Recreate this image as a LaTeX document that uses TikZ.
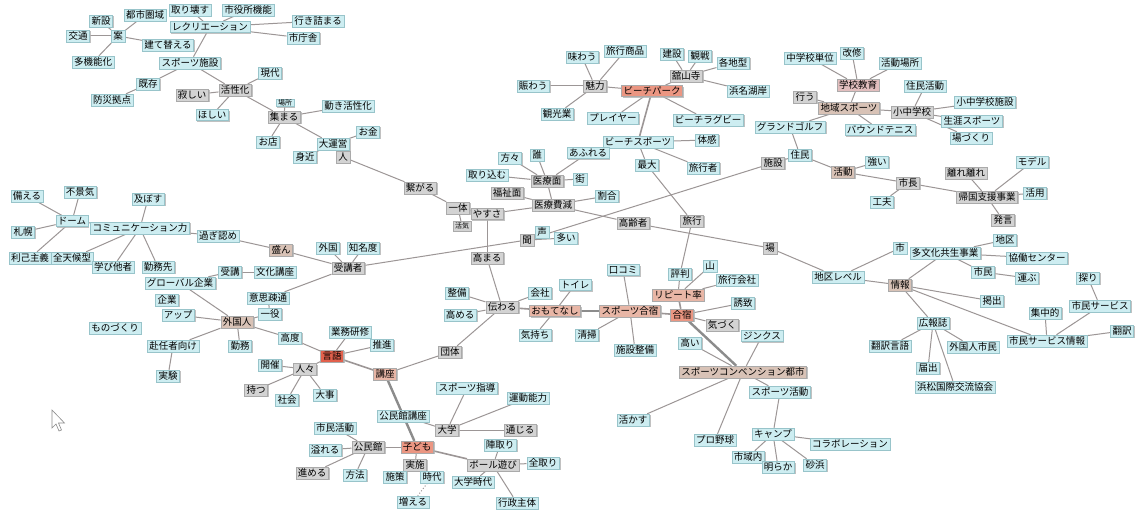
\documentclass[tikz,border=0pt]{standalone}
\usepackage{fontspec}
\setmainfont{Noto Sans CJK JP}
\usetikzlibrary{shadows,backgrounds}
\definecolor{cyf}{HTML}{CDEDF1}
\definecolor{cyd}{HTML}{98C4CA}
\definecolor{gyf}{HTML}{D3D3D3}
\definecolor{gyd}{HTML}{AAAAAA}
\definecolor{bgf}{HTML}{D8C2B6}
\definecolor{slf}{HTML}{E8B6A6}
\definecolor{ssf}{HTML}{EB9682}
\definecolor{rdf}{HTML}{E2604C}
\definecolor{pkf}{HTML}{E2BEBE}
\definecolor{edg}{HTML}{9C9696}
\tikzset{
 nb/.style={draw=cyd,line width=0.5pt,inner xsep=2pt,inner ysep=1.6pt,font=\fontsize{9.5}{10}\selectfont,
   drop shadow={shadow xshift=1.3pt,shadow yshift=-1.3pt,fill=black!30,opacity=0.8}},
 cy/.style={nb,fill=cyf},
 gy/.style={nb,fill=gyf,draw=gyd},
 bg/.style={nb,fill=bgf,draw=gyd},
 sl/.style={nb,fill=slf,draw=gyd},
 ss/.style={nb,fill=ssf,draw=gyd},
 rd/.style={nb,fill=rdf,draw=gyd},
 pk/.style={nb,fill=pkf,draw=gyd},
 sm/.style={font=\fontsize{7}{8}\selectfont},
 e/.style={draw=edg,line width=1pt},
 et/.style={draw=black!45,line width=2.4pt},
 em/.style={draw=edg,line width=1.6pt},
}
\begin{document}
\begin{tikzpicture}[x=1pt,y=-1pt]
\useasboundingbox (0,0) rectangle (1141,516);
% top-left
\node[cy] (a1) at (101,21) {新設};
\node[cy] (a2) at (145,15) {都市圏域};
\node[cy] (a3) at (190,10) {取り壊す};
\node[cy] (a4) at (248,10) {市役所機能};
\node[cy] (a5) at (210,27) {レクリエーション};
\node[cy] (a6) at (318,21) {行き詰まる};
\node[cy] (a7) at (303,38) {市庁舎};
\node[cy] (a8) at (78,36) {交通};
\node[cy] (a9) at (118,36) {案};
\node[cy] (a10) at (168,45) {建て替える};
\node[cy] (a11) at (93,62) {多機能化};
\node[cy] (a12) at (190,63) {スポーツ施設};
\node[cy] (a13) at (270,73) {現代};
\node[cy] (a14) at (148,84) {既存};
\node[gy] (a15) at (235,90) {活性化};
\node[gy] (a16) at (192,95) {寂しい};
\node[cy] (a17) at (112,100) {防災拠点};
\node[cy] (a18) at (212,115) {ほしい};
\node[gy] (a20) at (284,117) {集まる};
\node[cy,sm,inner ysep=0.5pt] (a19) at (285,103) {場所};
\node[cy] (a21) at (268,142) {お店};
\node[cy] (a22) at (348,106) {動き活性化};
\node[cy] (a23) at (368,132) {お金};
\node[cy] (a24) at (333,144) {大運営};
\node[cy] (a25) at (305,157) {身近};
\node[gy] (a26) at (343,157) {人};
% centre-top
\node[cy] (b1) at (533,86) {賑わう};
\node[cy] (b2) at (557,114) {観光業};
\node[cy] (b3) at (582,57) {味わう};
\node[cy] (b4) at (625,51) {旅行商品};
\node[gy] (b5) at (595,86) {魅力};
\node[ss] (b6) at (652,91) {ビーチパーク};
\node[cy] (b7) at (672,54) {建設};
\node[cy] (b8) at (700,56) {観戦};
\node[cy] (b9) at (733,63) {各地型};
\node[gy] (b10) at (686,76) {舘山寺};
\node[cy] (b11) at (748,91) {浜名湖岸};
\node[cy] (b12) at (613,118) {プレイヤー};
\node[cy] (b13) at (708,120) {ビーチラグビー};
\node[cy] (b14) at (638,142) {ビーチスポーツ};
\node[cy] (b15) at (707,140) {体感};
\node[cy] (b16) at (588,153) {あふれる};
\node[cy] (b17) at (647,165) {最大};
\node[cy] (b18) at (703,168) {旅行者};
\node[cy] (b19) at (510,158) {方々};
\node[cy] (b20) at (537,155) {誰};
\node[cy] (b21) at (487,175) {取り込む};
\node[gy] (b22) at (547,181) {医療面};
\node[cy] (b23) at (580,179) {街};
\node[gy] (b24) at (507,193) {福祉面};
\node[cy] (b25) at (607,196) {割合};
\node[gy] (b26) at (553,205) {医療費減};
\node[gy] (b27) at (420,188) {繋がる};
\node[gy] (b28) at (458,208) {一体};
\node[gy] (b29) at (487,214) {やすさ};
\node[gy,sm] (b30) at (462,226) {活気};
\node[gy] (b31) at (527,240) {聞};
\node[cy] (b32) at (542,232) {声};
\node[cy] (b33) at (566,238) {多い};
\node[gy] (b34) at (633,223) {高齢者};
\node[gy] (b35) at (692,221) {旅行};
\node[gy] (b36) at (770,248) {場};
\node[gy] (b37) at (487,258) {高まる};
% right-top
\node[cy] (c1) at (810,58) {中学校単位};
\node[cy] (c2) at (852,53) {改修};
\node[pk] (c3) at (858,85) {学校教育};
\node[cy] (c4) at (900,63) {活動場所};
\node[gy] (c5) at (805,97) {行う};
\node[bg] (c6) at (849,108) {地域スポーツ};
\node[cy] (c7) at (925,86) {住民活動};
\node[gy] (c8) at (912,112) {小中学校};
\node[cy] (c9) at (985,102) {小中学校施設};
\node[cy] (c10) at (972,121) {生涯スポーツ};
\node[cy] (c11) at (971,138) {場づくり};
\node[cy] (c12) at (790,127) {グランドゴルフ};
\node[cy] (c13) at (880,130) {バウンドテニス};
\node[cy] (c14) at (800,155) {住民};
\node[gy] (c15) at (773,163) {施設};
\node[bg] (c16) at (843,172) {活動};
\node[cy] (c17) at (877,162) {強い};
\node[gy] (c18) at (908,183) {市長};
\node[cy] (c19) at (882,202) {工夫};
\node[gy] (c20) at (966,173) {離れ離れ};
\node[cy] (c21) at (1032,162) {モデル};
\node[gy] (c22) at (987,197) {帰国支援事業};
\node[cy] (c23) at (1035,193) {活用};
\node[gy] (c24) at (1003,220) {発言};
% right-middle
\node[cy] (d1) at (838,277) {地区レベル};
\node[cy] (d2) at (900,248) {市};
\node[cy] (d3) at (945,253) {多文化共生事業};
\node[cy] (d4) at (1005,240) {地区};
\node[cy] (d5) at (1037,258) {協働センター};
\node[cy] (d6) at (983,272) {市民};
\node[cy] (d7) at (1027,278) {運ぶ};
\node[bg] (d8) at (900,285) {情報};
\node[cy] (d9) at (1088,278) {探り};
\node[cy] (d10) at (992,301) {掲出};
\node[cy] (d11) at (1100,306) {市民サービス};
\node[cy] (d12) at (1045,313) {集中的};
\node[cy] (d13) at (933,323) {広報誌};
\node[cy] (d14) at (1122,331) {翻訳};
\node[cy] (d15) at (1047,341) {市民サービス情報};
\node[cy] (d16) at (890,346) {翻訳言語};
\node[cy] (d17) at (973,347) {外国人市民};
\node[cy] (d18) at (928,368) {届出};
\node[cy] (d19) at (955,387) {浜松国際交流協会};
% middle
\node[cy] (e1) at (623,270) {口コミ};
\node[cy] (e2) at (680,274) {評判};
\node[cy] (e3) at (710,266) {山};
\node[cy] (e4) at (737,280) {旅行会社};
\node[sl] (e5) at (678,295) {リピート率};
\node[cy] (e6) at (743,303) {誘致};
\node[cy] (e7) at (575,285) {トイレ};
\node[cy] (e8) at (540,293) {会社};
\node[sl] (e9) at (555,311) {おもてなし};
\node[sl] (e10) at (630,311) {スポーツ合宿};
\node[ss] (e11) at (682,315) {合宿};
\node[gy] (e12) at (722,325) {気づく};
\node[cy] (e13) at (587,335) {清掃};
\node[cy] (e14) at (535,335) {気持ち};
\node[cy] (e15) at (635,350) {施設整備};
\node[cy] (e16) at (690,343) {高い};
\node[cy] (e17) at (762,336) {ジンクス};
\node[cy] (e18) at (457,293) {整備};
\node[gy] (e19) at (502,307) {伝わる};
\node[cy] (e20) at (460,315) {高める};
\node[gy] (e21) at (450,352) {団体};
% bottom-right
\node[bg] (f1) at (743,372) {スポーツコンベンション都市};
\node[cy] (f2) at (780,392) {スポーツ活動};
\node[cy] (f3) at (633,420) {活かす};
\node[cy] (f4) at (773,434) {キャンプ};
\node[cy] (f5) at (715,440) {プロ野球};
\node[cy] (f6) at (748,457) {市域内};
\node[cy] (f7) at (778,467) {明らか};
\node[cy] (f8) at (815,465) {砂浜};
\node[cy] (f9) at (850,444) {コラボレーション};
% left
\node[cy] (g1) at (27,196) {備える};
\node[cy] (g2) at (80,192) {不景気};
\node[cy] (g3) at (148,199) {及ぼす};
\node[cy] (g4) at (72,221) {ドーム};
\node[cy] (g5) at (23,232) {札幌};
\node[cy] (g6) at (140,228) {コミュニケーション力};
\node[cy] (g7) at (218,236) {過ぎ認め};
\node[cy] (g8) at (30,258) {利己主義};
\node[cy] (g9) at (72,258) {全天候型};
\node[cy] (g10) at (113,267) {学び他者};
\node[cy] (g11) at (158,267) {勤務先};
\node[bg] (g12) at (281,250) {盛ん};
\node[cy] (g13) at (328,248) {外国};
\node[cy] (g14) at (363,248) {知名度};
\node[gy] (g15) at (348,268) {受講者};
\node[cy] (g16) at (230,272) {受講};
\node[cy] (g17) at (275,272) {文化講座};
\node[cy] (g18) at (180,283) {グローバル企業};
\node[cy] (g19) at (167,300) {企業};
\node[cy] (g20) at (268,298) {意思疎通};
\node[cy] (g21) at (178,315) {アップ};
\node[cy] (g22) at (270,314) {一役};
\node[bg] (g23) at (237,322) {外国人};
\node[cy] (g24) at (115,328) {ものづくり};
\node[cy] (g25) at (173,346) {赴任者向け};
\node[cy] (g26) at (240,346) {勤務};
\node[cy] (g27) at (168,376) {実験};
\node[cy] (g28) at (290,338) {高度};
\node[cy] (g29) at (350,332) {業務研修};
\node[cy] (g30) at (382,345) {推進};
\node[rd] (g31) at (332,356) {言語};
\node[cy] (g32) at (270,365) {開催};
\node[gy] (g33) at (305,369) {人々};
\node[gy] (g34) at (256,390) {持つ};
\node[cy] (g35) at (287,400) {社会};
\node[cy] (g36) at (325,395) {大事};
\node[sl] (g37) at (385,374) {講座};
% bottom
\node[cy] (h1) at (467,388) {スポーツ指導};
\node[cy] (h2) at (528,398) {運動能力};
\node[cy] (h3) at (403,416) {公民館講座};
\node[gy] (h4) at (447,430) {大学};
\node[gy] (h5) at (520,430) {通じる};
\node[cy] (h6) at (335,428) {市民活動};
\node[cy] (h7) at (500,445) {陣取り};
\node[cy] (h8) at (325,450) {溢れる};
\node[gy] (h9) at (368,447) {公民館};
\node[ss] (h10) at (417,447) {子ども};
\node[gy] (h11) at (493,465) {ボール遊び};
\node[cy] (h12) at (543,463) {全取り};
\node[gy] (h13) at (415,465) {実施};
\node[gy] (h14) at (312,473) {進める};
\node[cy] (h15) at (355,475) {方法};
\node[cy] (h16) at (395,477) {施策};
\node[cy] (h17) at (432,477) {時代};
\node[cy] (h18) at (473,482) {大学時代};
\node[cy] (h19) at (413,502) {増える};
\node[cy] (h20) at (517,503) {行政主体};
% cursor
\coordinate (cur) at (52,410);
\draw[black!45,fill=white,line width=0.6pt] (cur) -- ++(0,18) -- ++(4,-4) -- ++(3,7) -- ++(2.5,-1) -- ++(-3,-7) -- ++(6,0) -- cycle;
\begin{scope}[on background layer]
\fill[white] (0,0) rectangle (1141,516);
\foreach \u/\v in {a9/a1,a9/a8,a9/a11,a9/a2,a9/a10,a5/a3,a5/a4,a5/a6,a5/a7,a5/a12,a12/a14,a14/a17,a12/a15,
 a15/a13,a15/a16,a15/a18,a15/a20,a20/a19,a20/a22,a20/a21,a20/a24,a24/a23,a24/a25,a24/a26,a26/b27,
 b27/b28,b28/b29,b28/b30,b29/b26,b29/b37,b26/b25,b26/b22,b22/b19,b22/b20,b22/b23,b22/b21,b22/b16,
 b24/b26,b26/b34,b34/b36,b36/d1,b35/b17,b35/e2,b14/b17,b14/b18,b14/b15,b16/b14,b6/b5,b6/b12,b6/b13,b6/b10,
 b5/b3,b5/b4,b5/b1,b5/b2,b10/b7,b10/b8,b10/b9,b10/b11,g15/b31,b31/c15,b31/b32,b31/b33,
 c15/c14,c14/c12,c14/c16,c12/c6,c6/c5,c6/c3,c6/c8,c6/c13,c3/c1,c3/c2,c3/c4,c8/c7,c8/c9,c8/c10,c8/c11,
 c16/c17,c16/c18,c18/c19,c18/c22,c22/c20,c22/c21,c22/c23,c22/c24,
 d1/d2,d8/d1,d8/d3,d3/d4,d3/d5,d3/d6,d6/d7,d8/d10,d8/d15,d8/d13,d15/d12,d15/d11,d15/d14,d11/d9,
 d13/d16,d13/d17,d13/d18,d13/d19,
 e5/e2,e5/e3,e5/e4,e11/e6,e11/e12,e10/e1,e10/e13,e10/e15,e9/e7,e9/e14,e19/e8,e19/e18,e19/e20,e19/e21,e19/b37,
 f1/e17,f1/f2,f1/f5,f1/f3,f1/e16,f2/f4,f4/f9,f4/f6,f4/f7,f4/f8,
 e21/g37,g31/g29,g31/g30,g31/g33,g31/g28,g28/g23,g33/g32,g33/g34,g33/g35,g33/g36,
 g23/g18,g23/g21,g23/g22,g23/g25,g23/g26,g25/g27,g22/g20,g20/g15,g15/g12,g15/g13,g15/g14,g12/g7,g7/g6,
 g6/g3,g6/g9,g6/g10,g6/g11,g6/g4,g4/g1,g4/g2,g4/g5,g4/g8,g16/g17,g16/g18,
 h10/h3,h3/h4,h4/h1,h4/h2,h4/h5,h10/h9,h9/h6,h9/h8,h9/h14,h9/h15,h11/h7,h11/h12,h11/h18,h11/h20,
 h10/h13,h13/h16,h13/h17}
 {\draw[e] (\u) -- (\v);}
\draw[e,dotted] (h17) -- (h19);
\foreach \u/\v in {b6/b14,e5/e11,e10/e11,e9/e19,g31/g37,h10/h11}
 {\draw[em] (\u) -- (\v);}
\foreach \u/\v in {e11/f1,e9/e10,g37/h10}
 {\draw[et] (\u) -- (\v);}
\end{scope}
\end{tikzpicture}
\end{document}
